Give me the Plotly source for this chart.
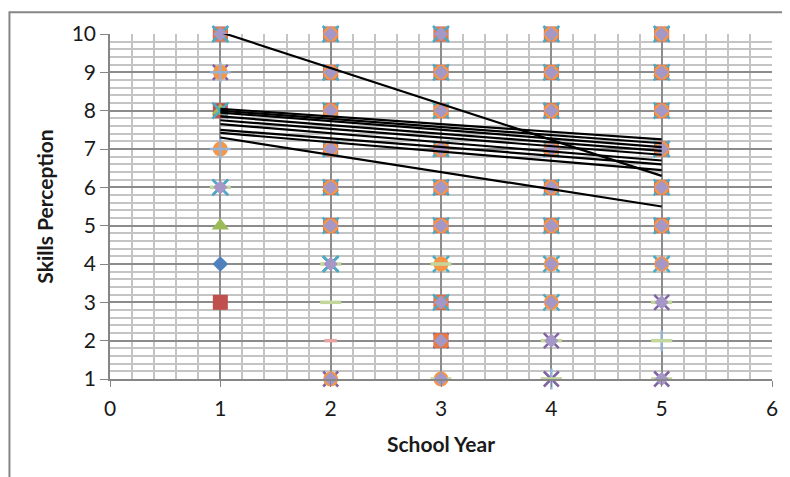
import plotly.graph_objects as go

# ---------------- data ----------------
years = [1, 5]  # trendline span (School Year)
trend_start = [10.05, 8.05, 8.0, 7.95, 7.85, 7.75, 7.65, 7.5, 7.42, 7.3]
trend_end = [6.3, 7.25, 7.15, 7.05, 6.95, 6.85, 6.7, 6.6, 6.45, 5.5]

x_ticks = [0, 1, 2, 3, 4, 5, 6]
y_ticks = [1, 2, 3, 4, 5, 6, 7, 8, 9, 10]

blue_diamond_x = [1, 2, 3, 4, 5]
blue_diamond_y = [4, 8, 7, 6, 7]

red_square_x = [1, 1, 1, 2, 2, 2, 2, 2, 2, 3, 3, 3, 3, 3, 3, 3, 3, 4, 4, 4, 4, 4, 4, 5, 5, 5, 5, 5, 5]
red_square_y = [3, 8, 10, 5, 6, 7, 8, 9, 10, 2, 3, 5, 6, 7, 8, 9, 10, 5, 6, 7, 8, 9, 10, 5, 6, 7, 8, 9, 10]

green_triangle_x = [1, 1, 2, 3, 4, 5]
green_triangle_y = [5, 8, 6, 8, 7, 9]

purple_x_x = [1, 1, 2, 2, 3, 4, 4, 5, 5, 2, 3, 4, 5]
purple_x_y = [9, 6, 1, 4, 2, 2, 1, 3, 1, 9, 6, 8, 5]

orange_square_x = [1, 2, 2, 2, 2, 2, 2, 3, 3, 3, 3, 3, 3, 3, 3, 4, 4, 4, 4, 4, 4, 5, 5, 5, 5, 5, 5]
orange_square_y = [10, 5, 6, 7, 8, 9, 10, 2, 3, 5, 6, 7, 8, 9, 10, 5, 6, 7, 8, 9, 10, 5, 6, 7, 8, 9, 10]

aqua_x_x = [1, 1, 1, 2, 2, 2, 2, 2, 2, 2, 3, 3, 3, 3, 3, 3, 3, 3, 4, 4, 4, 4, 4, 4, 4, 4, 5, 5, 5, 5, 5, 5, 5]
aqua_x_y = [10, 8, 6, 4, 5, 6, 7, 8, 9, 10, 3, 4, 5, 6, 7, 8, 9, 10, 3, 4, 5, 6, 7, 8, 9, 10, 4, 5, 6, 7, 8, 9, 10]

orange_circle_x = [1, 1, 2, 2, 2, 2, 2, 2, 2, 3, 3, 3, 3, 3, 3, 3, 4, 4, 4, 4, 4, 4, 4, 4, 5, 5, 5, 5, 5, 5, 5]
orange_circle_y = [9, 7, 1, 5, 6, 7, 8, 9, 10, 1, 4, 5, 6, 7, 8, 9, 3, 4, 5, 6, 7, 8, 9, 10, 4, 5, 6, 7, 8, 9, 10]

plus_x = [1, 1, 4, 5]
plus_y = [9, 7, 1, 2]

green_dash_x = [1, 2, 2, 3, 3, 4, 4, 5, 5, 5]
green_dash_y = [6, 3, 4, 4, 1, 2, 1, 3, 2, 1]

pink_dash_x = [2]
pink_dash_y = [2]

lavender_diamond_x = [1, 1, 2, 2, 2, 2, 2, 2, 2, 2, 3, 3, 3, 3, 3, 3, 3, 3, 3, 4, 4, 4, 4, 4, 4, 4, 4, 4, 5, 5, 5, 5, 5, 5, 5, 5, 5]
lavender_diamond_y = [10, 6, 1, 4, 5, 6, 7, 8, 9, 10, 1, 2, 3, 5, 6, 7, 8, 9, 10, 2, 3, 4, 5, 6, 7, 8, 9, 10, 1, 3, 4, 5, 6, 7, 8, 9, 10]

# ---------------- figure ----------------
fig = go.Figure()

def add_markers(xs, ys, symbol, color, size, line_width=0, line_color=None):
    marker = dict(symbol=symbol, size=size, color=color)
    if line_width:
        marker["line"] = dict(width=line_width, color=line_color or color)
    else:
        marker["line"] = dict(width=0)
    fig.add_trace(go.Scatter(x=xs, y=ys, mode="markers", marker=marker,
                             showlegend=False, cliponaxis=False, hoverinfo="skip"))

add_markers(blue_diamond_x, blue_diamond_y, "diamond", "#4F81BD", 12)
add_markers(red_square_x, red_square_y, "square", "#C0504D", 15)
add_markers(green_triangle_x, green_triangle_y, "triangle-up", "#9BBB59", 15)
add_markers(purple_x_x, purple_x_y, "x-thin", "#8064A2", 15, 2.5, "#8064A2")
add_markers(orange_square_x, orange_square_y, "square", "#EB7B3C", 14)
add_markers(aqua_x_x, aqua_x_y, "x-thin", "#4BACC6", 16, 2.5, "#4BACC6")
add_markers(orange_circle_x, orange_circle_y, "circle", "#F79646", 15)
add_markers(plus_x, plus_y, "cross-thin", "#95B3D7", 15, 2.5, "#95B3D7")
add_markers(green_dash_x, green_dash_y, "line-ew", "#C3D69B", 15, 3.5, "#C3D69B")
add_markers(pink_dash_x, pink_dash_y, "line-ew", "#E6A5A4", 9, 3.5, "#E6A5A4")
add_markers(lavender_diamond_x, lavender_diamond_y, "diamond", "#A597C6", 11)

for s, e in zip(trend_start, trend_end):
    fig.add_trace(go.Scatter(x=years, y=[s, e], mode="lines",
                             line=dict(color="black", width=2.2),
                             showlegend=False, cliponaxis=False, hoverinfo="skip"))

font_family = "Lato, 'Open Sans', sans-serif"

fig.update_layout(
    width=782, height=469,
    margin=dict(l=102, r=15, t=23, b=98),
    paper_bgcolor="white", plot_bgcolor="white",
    font=dict(family=font_family, size=21, color="#1a1a1a"),
    xaxis=dict(
        range=[0, 6], tickvals=x_ticks, ticktext=[str(v) for v in x_ticks],
        tickfont=dict(size=21), ticklabelstandoff=4,
        showgrid=True, gridcolor="#8C8C8C", gridwidth=1.5,
        minor=dict(dtick=0.2, showgrid=True, gridcolor="#C4C4C4", gridwidth=1.5),
        showline=True, linecolor="#868686", linewidth=1.5,
        ticks="outside", ticklen=6, tickcolor="#868686",
        zeroline=False,
        title=dict(text="<b>School Year</b>", standoff=18, font=dict(size=21)),
    ),
    yaxis=dict(
        range=[1, 10], tickvals=y_ticks, ticktext=[str(v) for v in y_ticks],
        tickfont=dict(size=21),
        showgrid=True, gridcolor="#8C8C8C", gridwidth=1.5,
        minor=dict(dtick=0.2, showgrid=True, gridcolor="#C4C4C4", gridwidth=1.5),
        showline=True, linecolor="#868686", linewidth=1.5,
        ticks="outside", ticklen=8, tickcolor="#868686",
        zeroline=False,
        title=dict(text="<b>Skills Perception</b>", standoff=12, font=dict(size=21)),
    ),
    shapes=[dict(type="rect", xref="paper", yref="paper",
                 x0=-0.1519, x1=1.08, y0=-0.4, y1=1.0632,
                 line=dict(color="#868686", width=2), layer="below")],
)

fig.write_html("out.html")
